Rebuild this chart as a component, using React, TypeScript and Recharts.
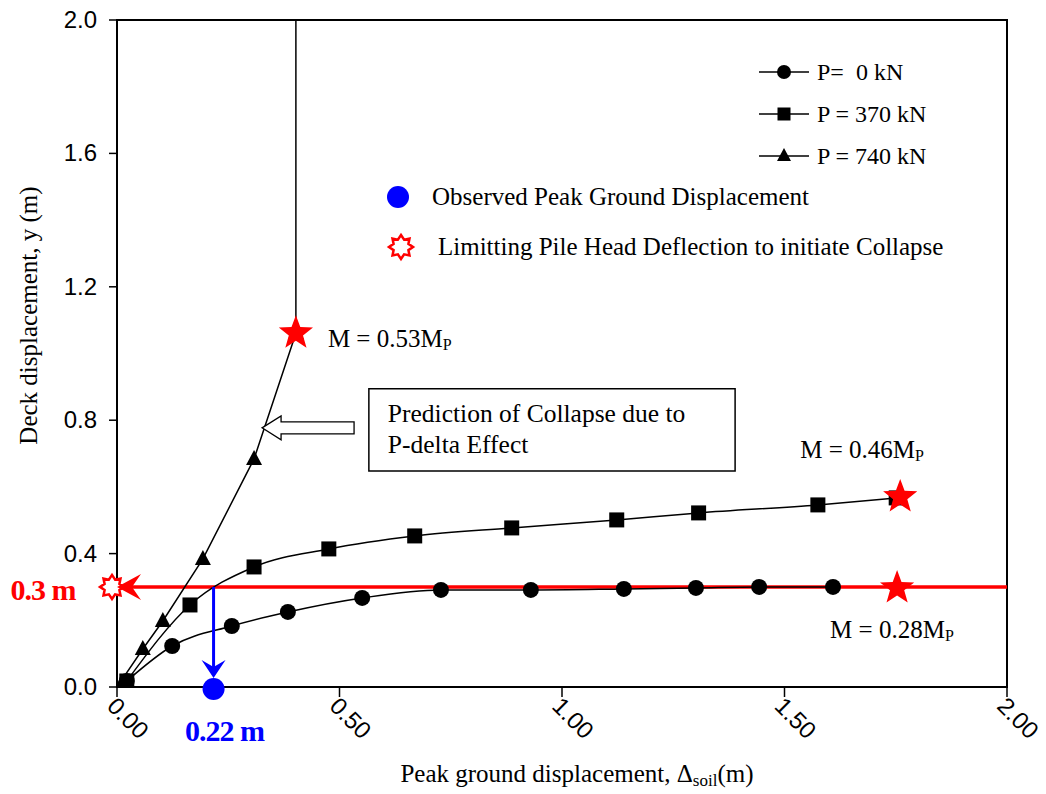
import React from "react";
import {
  LineChart,
  Line,
  XAxis,
  YAxis,
  ReferenceLine,
  ReferenceDot,
  ReferenceArea,
  Label,
} from "recharts";

document.body.style.margin = "0";

// P = 0 kN
const p0X = [0.022, 0.124, 0.258, 0.384, 0.551, 0.728, 0.93, 1.139, 1.301, 1.443, 1.609];
const p0Y = [0.018, 0.123, 0.183, 0.225, 0.267, 0.291, 0.291, 0.294, 0.297, 0.3, 0.3];
// P = 370 kN
const p370X = [0.022, 0.164, 0.308, 0.476, 0.669, 0.887, 1.123, 1.307, 1.575, 1.751];
const p370Y = [0.018, 0.246, 0.36, 0.414, 0.453, 0.477, 0.501, 0.522, 0.546, 0.567];
// P = 740 kN
const p740X = [0, 0.058, 0.103, 0.193, 0.308, 0.402];
const p740Y = [0, 0.114, 0.198, 0.384, 0.684, 1.061];
// collapse (vertical after last point)
const collapseX = [0.402, 0.402];
const collapseY = [1.061, 2.0];

// moment stars
const starX = [0.402, 1.76, 1.753];
const starY = [1.061, 0.57, 0.297];
const starText = ["0.53", "0.46", "0.28"];
const starDx = [32, -100, -67];
const starDy = [14, -39, 50];

const limitY = 0.3;
const observedX = 0.217;

const xTicks = [0, 0.5, 1, 1.5, 2];
const yTicks = [0, 0.4, 0.8, 1.2, 1.6, 2.0];

const boxX = [0.566, 1.389];
const boxY = [0.648, 0.894];
const arrowTip = { x: 0.326, y: 0.777 };

const toPts = (xs: number[], ys: number[]) => xs.map((x, i) => ({ x, y: ys[i] }));
const p0Data = toPts(p0X, p0Y);
const p370Data = toPts(p370X, p370Y);
const p740Data = toPts(p740X, p740Y);
const collapseData = toPts(collapseX, collapseY);
const blueLine = [
  { x: observedX, y: limitY },
  { x: observedX, y: 0.06 },
];

const SERIF = "'Liberation Serif', 'Times New Roman', serif";
const SANS = "'Liberation Sans', Arial, sans-serif";

const starPath = (cx: number, cy: number, n: number, R: number, r: number) => {
  let d = "";
  for (let i = 0; i < n * 2; i++) {
    const a = -Math.PI / 2 + (i * Math.PI) / n;
    const rr = i % 2 === 0 ? R : r;
    d += (i === 0 ? "M" : "L") + (cx + rr * Math.cos(a)).toFixed(1) + "," + (cy + rr * Math.sin(a)).toFixed(1);
  }
  return d + "Z";
};

const CircleDot = (props: any) => {
  const { cx, cy, index } = props;
  return <circle key={"c" + index} cx={cx} cy={cy} r={8} fill="#000" />;
};
const SquareDot = (props: any) => {
  const { cx, cy, index } = props;
  return <rect key={"s" + index} x={cx - 7.5} y={cy - 7.5} width={15} height={15} fill="#000" />;
};
const TriDot = (props: any) => {
  const { cx, cy, index } = props;
  return (
    <path
      key={"t" + index}
      d={`M${cx},${cy - 9} L${cx + 8},${cy + 6} L${cx - 8},${cy + 6} Z`}
      fill="#000"
    />
  );
};

const XTick = (props: any) => {
  const { x, y, payload } = props;
  return (
    <text
      x={x}
      y={y}
      dx={-2}
      dy={14}
      transform={`rotate(45, ${x}, ${y})`}
      fontSize={24}
      fontFamily={SANS}
      fill="#000"
    >
      {payload.value.toFixed(2)}
    </text>
  );
};

const YTick = (props: any) => {
  const { x, y, payload } = props;
  return (
    <text x={x} y={y} dy={8} textAnchor="end" fontSize={24} fontFamily={SANS} fill="#000">
      {payload.value.toFixed(1)}
    </text>
  );
};

const MText = ({ x, y, v }: { x: number; y: number; v: string }) => (
  <text x={x} y={y} fontSize={25} fontFamily={SERIF} fill="#000">
    {"M = " + v + "M"}
    <tspan fontSize={16} dy={3}>
      P
    </tspan>
  </text>
);

const LegendRow = ({ marker, label }: { marker: string; label: string }) => (
  <div style={{ display: "flex", alignItems: "center", height: 42 }}>
    <svg width={54} height={20} style={{ marginRight: 6 }}>
      <line x1={2} y1={10} x2={52} y2={10} stroke="#000" strokeWidth={1.5} />
      {marker === "circle" && <circle cx={27} cy={10} r={7} fill="#000" />}
      {marker === "square" && <rect x={20.5} y={3.5} width={13} height={13} fill="#000" />}
      {marker === "triangle" && <path d="M27,2 L34,15 L20,15 Z" fill="#000" />}
    </svg>
    <span style={{ fontFamily: SERIF, fontSize: 24, whiteSpace: "pre" }}>{label}</span>
  </div>
);

export default function App() {
  return (
    <div style={{ position: "relative", width: 1046, height: 794, background: "#fff" }}>
      <LineChart
        width={1046}
        height={794}
        margin={{ top: 20, right: 39, bottom: 47, left: 57 }}
      >
        <XAxis
          type="number"
          dataKey="x"
          domain={[0, 2]}
          ticks={xTicks}
          allowDataOverflow
          height={60}
          axisLine={{ stroke: "#000", strokeWidth: 2 }}
          tickLine={{ stroke: "#000", strokeWidth: 1.5 }}
          tickSize={10}
          tick={<XTick />}
        >
          <Label
            content={(p: any) => {
              const vb = p.viewBox;
              return (
                <text
                  x={vb.x + vb.width / 2 + 15}
                  y={vb.y + 95}
                  textAnchor="middle"
                  fontSize={25}
                  fontFamily={SERIF}
                  fill="#000"
                >
                  {"Peak ground displacement, \u0394"}
                  <tspan fontSize={17} dy={4}>
                    soil
                  </tspan>
                  <tspan dy={-4}>(m)</tspan>
                </text>
              );
            }}
          />
        </XAxis>
        <YAxis
          type="number"
          dataKey="y"
          domain={[0, 2]}
          ticks={yTicks}
          allowDataOverflow
          width={60}
          axisLine={{ stroke: "#000", strokeWidth: 2 }}
          tickLine={{ stroke: "#000", strokeWidth: 1.5 }}
          tickSize={8}
          tickMargin={12}
          tick={<YTick />}
        >
          <Label
            content={(p: any) => {
              const vb = p.viewBox;
              const cx = 37;
              const cy = vb.y + vb.height / 2 - 38;
              return (
                <text
                  x={cx}
                  y={cy}
                  textAnchor="middle"
                  transform={`rotate(-90, ${cx}, ${cy})`}
                  fontSize={25}
                  fontFamily={SERIF}
                  fill="#000"
                >
                  Deck displacement, y (m)
                </text>
              );
            }}
          />
        </YAxis>

        <ReferenceArea
          x1={0}
          x2={2}
          y1={0}
          y2={2}
          fill="none"
          fillOpacity={0}
          stroke="#000"
          strokeWidth={2}
          ifOverflow="visible"
        />

        <ReferenceLine y={limitY} stroke="#ff0000" strokeWidth={3.5} />

        <Line data={p0Data} dataKey="y" type="monotone" stroke="#000" strokeWidth={1.5} dot={CircleDot} isAnimationActive={false} />
        <Line data={p370Data} dataKey="y" type="monotone" stroke="#000" strokeWidth={1.5} dot={SquareDot} isAnimationActive={false} />
        <Line data={p740Data} dataKey="y" type="linear" stroke="#000" strokeWidth={1.5} dot={TriDot} isAnimationActive={false} />
        <Line data={collapseData} dataKey="y" type="linear" stroke="#000" strokeWidth={1.5} dot={false} isAnimationActive={false} />
        <Line data={blueLine} dataKey="y" type="linear" stroke="#0000ff" strokeWidth={3} dot={false} isAnimationActive={false} />

        {/* blue arrow head and observed point */}
        <ReferenceDot
          x={observedX}
          y={0.027}
          ifOverflow="visible"
          shape={(p: any) => (
            <path
              d={`M${p.cx},${p.cy} L${p.cx - 12},${p.cy - 18} L${p.cx},${p.cy - 11} L${p.cx + 12},${p.cy - 18} Z`}
              fill="#0000ff"
            />
          )}
        />
        <ReferenceDot
          x={observedX}
          y={0}
          ifOverflow="visible"
          shape={(p: any) => (
            <g>
              <circle cx={p.cx} cy={p.cy + 2} r={11} fill="#0000ff" />
              <text
                x={p.cx + 11}
                y={p.cy + 54}
                textAnchor="middle"
                fontSize={30}
                fontWeight="bold"
                fontFamily={SERIF}
                fill="#0000ff"
                letterSpacing={-1}
              >
                0.22 m
              </text>
            </g>
          )}
        />

        {/* left side limit marker */}
        <ReferenceDot
          x={0}
          y={limitY}
          ifOverflow="visible"
          shape={(p: any) => (
            <g>
              <path d={starPath(p.cx - 5, p.cy, 8, 12, 8)} fill="#fff" stroke="#ff0000" strokeWidth={2.5} />
              <path
                d={`M${p.cx},${p.cy} L${p.cx + 24},${p.cy - 13} L${p.cx + 15},${p.cy} L${p.cx + 24},${p.cy + 13} Z`}
                fill="#ff0000"
              />
              <text
                x={p.cx - 74}
                y={p.cy + 13}
                textAnchor="middle"
                fontSize={30}
                fontWeight="bold"
                fontFamily={SERIF}
                fill="#ff0000"
                letterSpacing={-1}
              >
                0.3 m
              </text>
            </g>
          )}
        />

        {starX.map((sx, i) => (
          <ReferenceDot
            key={"star" + i}
            x={sx}
            y={starY[i]}
            ifOverflow="visible"
            shape={(p: any) => (
              <g>
                <path d={starPath(p.cx, p.cy, 5, 18, 7.5)} fill="#ff0000" />
                <MText x={p.cx + starDx[i]} y={p.cy + starDy[i]} v={starText[i]} />
              </g>
            )}
          />
        ))}

        {/* prediction box */}
        <ReferenceArea
          x1={boxX[0]}
          x2={boxX[1]}
          y1={boxY[0]}
          y2={boxY[1]}
          fill="#fff"
          fillOpacity={1}
          stroke="#000"
          strokeWidth={1.5}
          label={(p: any) => {
            const vb = p.viewBox;
            return (
              <text fontSize={25.5} fontFamily={SERIF} fill="#000">
                <tspan x={vb.x + 19} y={vb.y + 33}>
                  Prediction of Collapse due to
                </tspan>
                <tspan x={vb.x + 19} y={vb.y + 64}>
                  P-delta Effect
                </tspan>
              </text>
            );
          }}
        />
        <ReferenceDot
          x={arrowTip.x}
          y={arrowTip.y}
          ifOverflow="visible"
          shape={(p: any) => {
            const x = p.cx;
            const y = p.cy;
            return (
              <path
                d={`M${x},${y} L${x + 19},${y - 12} L${x + 19},${y - 6} L${x + 92},${y - 6} L${x + 92},${y + 6} L${x + 19},${y + 6} L${x + 19},${y + 12} Z`}
                fill="#fff"
                stroke="#000"
                strokeWidth={1.3}
              />
            );
          }}
        />
      </LineChart>

      {/* legend */}
      <div style={{ position: "absolute", left: 757, top: 51 }}>
        <LegendRow marker="circle" label="P=  0 kN" />
        <LegendRow marker="square" label="P = 370 kN" />
        <LegendRow marker="triangle" label="P = 740 kN" />
      </div>
      <div style={{ position: "absolute", left: 386, top: 182, display: "flex", alignItems: "center" }}>
        <svg width={26} height={30} style={{ marginRight: 20 }}>
          <circle cx={12} cy={15} r={11} fill="#0000ff" />
        </svg>
        <span style={{ fontFamily: SERIF, fontSize: 25 }}>Observed Peak Ground Displacement</span>
      </div>
      <div style={{ position: "absolute", left: 386, top: 232, display: "flex", alignItems: "center" }}>
        <svg width={30} height={30} style={{ marginRight: 22 }}>
          <path d={starPath(15, 15, 8, 12, 8)} fill="#fff" stroke="#ff0000" strokeWidth={2.5} />
        </svg>
        <span style={{ fontFamily: SERIF, fontSize: 25 }}>
          Limitting Pile Head Deflection to initiate Collapse
        </span>
      </div>
    </div>
  );
}
